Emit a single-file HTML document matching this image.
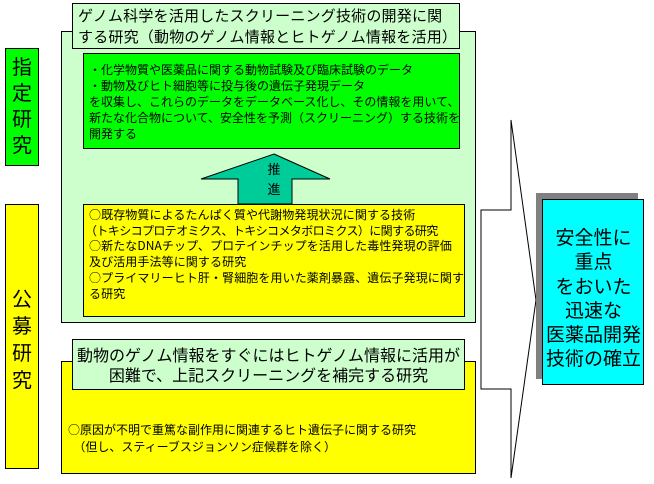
<!DOCTYPE html>
<html><head><meta charset="utf-8"><style>
body{margin:0;width:654px;height:484px;background:#fff;position:relative;overflow:hidden;font-family:"Noto Sans CJK JP","Liberation Sans",sans-serif;color:#000}
.b{position:absolute;box-sizing:border-box;border:1px solid #000}
.t{position:absolute;white-space:nowrap}
.v{display:flex;flex-direction:column;align-items:center;font-size:20px}
</style></head><body>
<div class="b" style="left:5px;top:48px;width:34px;height:118px;background:#00ff00"></div>
<div class="t v" style="left:5px;top:53px;width:34px;line-height:26px">指<br>定<br>研<br>究</div>
<div class="b" style="left:5px;top:204px;width:34px;height:265px;background:#ffff00"></div>
<div class="t v" style="left:5px;top:284px;width:34px;line-height:27px">公<br>募<br>研<br>究</div>

<div class="b" style="left:61px;top:31px;width:415px;height:292px;background:#ccffcc"></div>
<div class="b" style="left:72px;top:3px;width:388px;height:46px;background:#ccffcc"></div>
<div class="t" style="left:78px;top:5px;font-size:15px;line-height:21px;letter-spacing:0.2px">ゲノム科学を活用したスクリーニング技術の開発に関<br>する研究（動物のゲノム情報とヒトゲノム情報を活用）</div>

<div class="b" style="left:83px;top:53px;width:377px;height:96px;background:#00ff00"></div>
<div class="t" style="left:89px;top:62px;font-size:12px;line-height:16px">・化学物質や医薬品に関する動物試験及び臨床試験のデータ<br>・動物及びヒト細胞等に投与後の遺伝子発現データ<br>を収集し、これらのデータをデータベース化し、その情報を用いて、<br>新たな化合物について、安全性を予測（スクリーニング）する技術を<br>開発する</div>

<svg style="position:absolute;left:0;top:0" width="654" height="484">
<polygon points="274,154 330,179 292,179 292,204 238,204 238,179 201,179" fill="#00cc99" stroke="#000" stroke-width="1"/>
<polygon points="481,210 511,210 511,120 536,300 511,478 511,389 481,389" fill="#fff" stroke="#000" stroke-width="1"/>
<rect x="536" y="193" width="102" height="186" fill="#808080"/>
<rect x="542.5" y="199.5" width="101" height="185" fill="#00ffff" stroke="#000"/>
</svg>
<div class="t" style="left:256px;top:159px;font-size:13px;line-height:20px;text-align:center;width:36px">推<br>進</div>

<div class="b" style="left:83px;top:204px;width:382px;height:113px;background:#ffff00"></div>
<div class="t" style="left:89px;top:207px;font-size:12px;line-height:15.7px;letter-spacing:0.1px">○既存物質によるたんぱく質や代謝物発現状況に関する技術<br><span style="letter-spacing:-0.6px;margin-left:-4px">（トキシコプロテオミクス、トキシコメタボロミクス）に関する研究</span><br>○新たなDNAチップ、プロテインチップを活用した毒性発現の評価<br>及び活用手法等に関する研究<br>○プライマリーヒト肝・腎細胞を用いた薬剤暴露、遺伝子発現に関す<br>る研究</div>

<div class="b" style="left:61px;top:361px;width:415px;height:113px;background:#ffff00"></div>
<div class="b" style="left:72px;top:339px;width:393px;height:51px;background:#ccffcc"></div>
<div class="t" style="left:72px;top:344px;width:393px;text-align:center;font-size:16px;line-height:20px">動物のゲノム情報をすぐにはヒトゲノム情報に活用が<br>困難で、上記スクリーニングを補完する研究</div>
<div class="t" style="left:68px;top:421px;font-size:12px;line-height:17px">○原因が不明で重篤な副作用に関連するヒト遺伝子に関する研究<br>&nbsp;&nbsp;（但し、スティーブスジョンソン症候群を除く）</div>

<div class="t" style="left:543px;top:225px;width:101px;text-align:center;font-size:19px;line-height:24.3px">安全性に<br>重点<br>をおいた<br>迅速な<br>医薬品開発<br>技術の確立</div>
</body></html>
